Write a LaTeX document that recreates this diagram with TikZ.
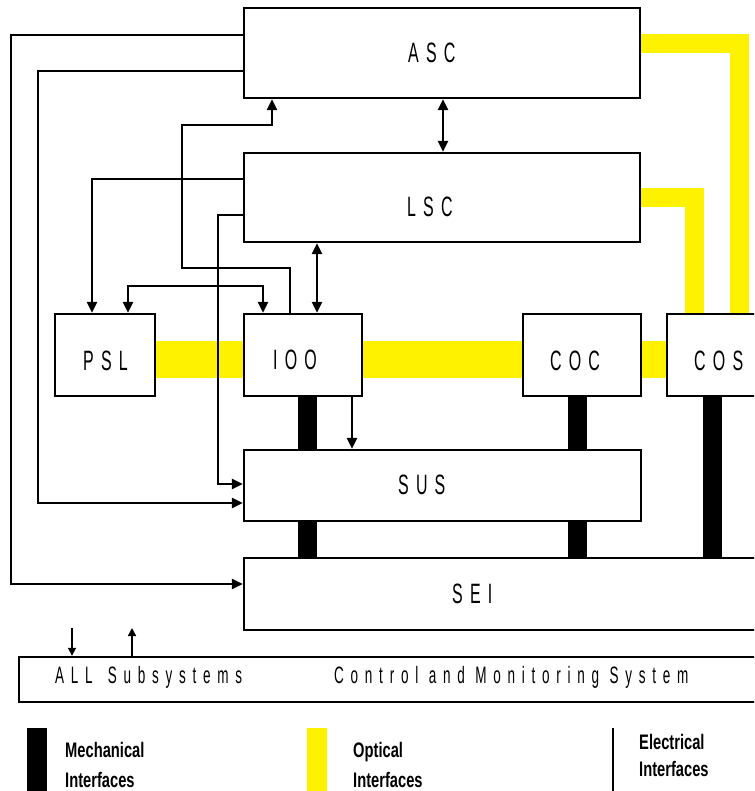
\documentclass[tikz,border=0pt]{standalone}
\usepackage{fontspec}
\usepackage{graphicx}
\setmainfont{Liberation Sans}
\newfontfamily\labfont[LetterSpace=45]{Liberation Sans}
\newfontfamily\cmsfont[LetterSpace=50]{Liberation Sans}
\newfontfamily\legfont{Liberation Sans}
\usetikzlibrary{arrows.meta,backgrounds}
\newcommand\boxlabel[1]{\scalebox{0.57}[1]{\labfont\fontsize{28}{28}\selectfont #1}}
\newcommand\cmslabel[1]{\scalebox{0.57}[1]{\cmsfont\fontsize{23.7}{24}\selectfont #1}}
\newcommand\leglabel[1]{\scalebox{0.7}[1]{\legfont\bfseries\fontsize{21}{21}\selectfont #1}}
\begin{document}
\begin{tikzpicture}[x=1pt,y=-1pt,
  >={Triangle[length=11pt,width=10pt]},
  box/.style={draw, fill=white, line width=2.4pt, inner sep=0pt},
  lab/.style={anchor=base west, inner sep=0pt},
  conn/.style={line width=2.4pt},
  small/.style={line width=1.5pt, >={Triangle[length=8pt,width=8pt]}},
  optical/.style={draw=yellow, line width=19pt},
  mech/.style={draw=black, line width=19pt}]
\useasboundingbox (0,0) rectangle (754,791);
\clip (0,0) rectangle (754,791);
% boxes
\node[box, minimum width=396pt, minimum height=90pt] (ASC) at (442,53) {};
\node[box, minimum width=396pt, minimum height=89pt] (LSC) at (442,197.5) {};
\node[box, minimum width=100pt, minimum height=82pt] (PSL) at (105,355) {};
\node[box, minimum width=118pt, minimum height=82pt] (IOO) at (303,355) {};
\node[box, minimum width=118pt, minimum height=82pt] (COC) at (582,355) {};
\node[box, minimum width=104pt, minimum height=82pt] (COS) at (719,355) {};
\node[box, minimum width=397pt, minimum height=71pt] (SUS) at (442.5,485.5) {};
\node[box, minimum width=526pt, minimum height=72pt] (SEI) at (507,594) {};
\node[box, minimum width=751pt, minimum height=45pt] (CMS) at (394.5,679.5) {};
% labels
\node[lab] (tASC) at (408,63) {\boxlabel{ASC}};
\node[lab] (tLSC) at (407,217) {\boxlabel{LSC}};
\node[lab] (tPSL) at (83,370) {\boxlabel{PSL}};
\node[lab] (tIOO) at (273,369) {\boxlabel{IOO}};
\node[lab] (tCOC) at (550,370) {\boxlabel{COC}};
\node[lab] (tCOS) at (694,370) {\boxlabel{COS}};
\node[lab] (tSUS) at (398,494) {\boxlabel{SUS}};
\node[lab] (tSEI) at (452,603) {\boxlabel{SEI}};
\node[lab] (tALL) at (55,683) {\cmslabel{ALL\hspace{8pt} Subsystems}};
\node[lab] (tCMS) at (334,683) {\cmslabel{Control and Monitoring System}};
% legend
\node[lab] (lg1a) at (65,757) {\leglabel{Mechanical}};
\node[lab] (lg1b) at (65,787) {\leglabel{Interfaces}};
\node[lab] (lg2a) at (353,757) {\leglabel{Optical}};
\node[lab] (lg2b) at (353,787) {\leglabel{Interfaces}};
\node[lab] (lg3a) at (639,749) {\leglabel{Electrical}};
\node[lab] (lg3b) at (639,776) {\leglabel{Interfaces}};
\fill[black] (27,728) rectangle (47,792);
\fill[yellow] (307,728) rectangle (327,792);
\draw[line width=2.4pt] (613,728) -- (613,792);
% interfaces on background
\begin{pgfonlayer}{background}
\fill[white] (0,0) rectangle (754,791);
\draw[optical, line width=37pt] (PSL.east |- 0,359.5) -- (IOO.west |- 0,359.5);
\draw[optical, line width=37pt] (IOO.east |- 0,359.5) -- (COC.west |- 0,359.5);
\draw[optical, line width=37pt] (COC.east |- 0,359.5) -- (COS.west |- 0,359.5);
\draw[optical] (ASC.east |- 0,44) -| (COS.north -| 739.5,0);
\draw[optical] (LSC.east |- 0,198) -| (COS.north -| 694.5,0);
\draw[mech] (IOO.south -| 307.5,0) -- (SUS.north -| 307.5,0);
\draw[mech] (SUS.south -| 307.5,0) -- (SEI.north -| 307.5,0);
\draw[mech] (COC.south -| 577.5,0) -- (SUS.north -| 577.5,0);
\draw[mech] (SUS.south -| 577.5,0) -- (SEI.north -| 577.5,0);
\draw[mech] (COS.south -| 712.5,0) -- (SEI.north -| 712.5,0);
\end{pgfonlayer}
% electrical connectors
\draw[conn,->] (ASC.west |- 0,35) -- (11,35) -- (11,584) -- (SEI.west |- 0,584);
\draw[conn,->] (ASC.west |- 0,71) -- (38,71) -- (38,503) -- (SUS.west |- 0,503);
\draw[conn,->] (IOO.north -| 290,0) -- (290,268) -- (182,268) -- (182,125) -- (272,125) -- (ASC.south -| 272,0);
\draw[conn,->] (LSC.west |- 0,179) -- (92,179) -- (PSL.north -| 92,0);
\draw[conn,->] (LSC.west |- 0,215) -- (218,215) -- (218,484) -- (SUS.west |- 0,484);
\draw[conn,<->] (PSL.north -| 128,0) -- (128,286) -- (263,286) -- (IOO.north -| 263,0);
\draw[conn,<->] (LSC.south -| 317,0) -- (IOO.north -| 317,0);
\draw[conn,<->] (ASC.south -| 443,0) -- (LSC.north -| 443,0);
\draw[conn,->] (IOO.south -| 352,0) -- (SUS.north -| 352,0);
% CMS arrows
\coordinate (d1) at (72,628);
\coordinate (u1) at (132,628);
\draw[small,->] (d1) -- (CMS.north -| d1);
\draw[small,->] (CMS.north -| u1) -- (u1);
\end{tikzpicture}
\end{document}
